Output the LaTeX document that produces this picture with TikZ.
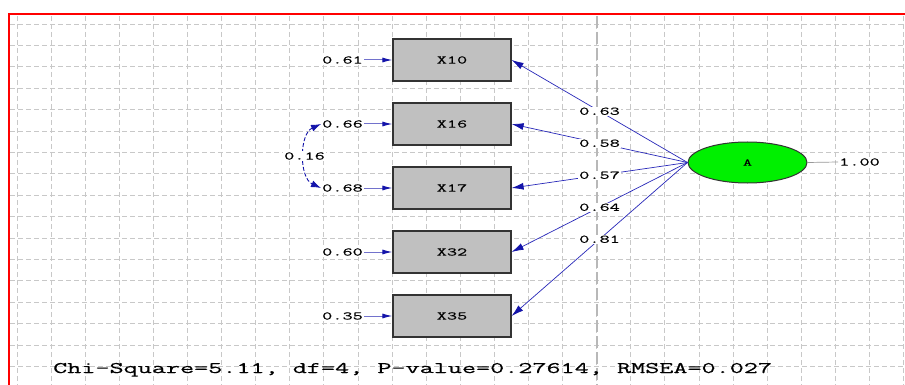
\documentclass[tikz,border=0pt]{standalone}
\usepackage{fontspec}
\newfontfamily\lmono[FakeStretch=1.7,FakeBold=0.6]{Latin Modern Mono}
\usetikzlibrary{arrows.meta,shapes.geometric}
\definecolor{pathblue}{RGB}{40,40,185}
\definecolor{errblue}{RGB}{20,20,170}
\definecolor{boxgray}{RGB}{192,192,192}
\definecolor{gridgray}{RGB}{200,200,200}
\definecolor{latgreen}{RGB}{0,240,0}
\tikzset{
  gridline/.style={gridgray, line width=0.9pt, dash pattern=on 5pt off 3pt},
  centreline/.style={black!28, line width=1.2pt, dash pattern=on 12pt off 4pt},
  obs/.style={draw=black!80, fill=boxgray, line width=1.2pt, minimum width=118pt, minimum height=42pt, inner sep=0pt, font=\lmono\fontsize{11.6}{12}\selectfont},
  latent/.style={ellipse, draw=black!80, fill=latgreen, line width=1pt, minimum width=119pt, minimum height=41pt, inner sep=0pt, font=\lmono\fontsize{10}{10}\selectfont},
  lbl/.style={inner sep=1pt, fill=white, text=black, font=\lmono\fontsize{11.6}{12}\selectfont},
  loading/.style={pathblue, line width=0.7pt, -{Latex[length=12pt,width=7pt,color=errblue]}},
  errarrow/.style={errblue!60, line width=1pt, -{Latex[length=10pt,width=5pt,color=errblue]}},
  covarrow/.style={errblue, line width=0.9pt, dash pattern=on 4pt off 2pt, {Latex[length=10pt,width=7pt]}-{Latex[length=10pt,width=7pt]}},
}
\begin{document}
\begin{tikzpicture}[x=1pt,y=-1pt]
\useasboundingbox (0,0) rectangle (905,385);
\fill[white] (0,0) rectangle (905,385);
% grid
\foreach \i in {0,...,26} \draw[gridline] ({17+34.1*\i},16) -- ({17+34.1*\i},385);
\foreach \j in {0,...,16} \draw[gridline] (10,{24+21.4*\j}) -- (905,{24+21.4*\j});
\draw[centreline] (597,16) -- (597,385);
% border
\draw[red, line width=2pt] (8.5,385) -- (8.5,14) -- (905,14);
% observed variables
\node[obs] (X10) at (452,60) {X10};
\node[obs] (X16) at (452,124) {X16};
\node[obs] (X17) at (452,188) {X17};
\node[obs] (X32) at (452,252) {X32};
\node[obs] (X35) at (452,316) {X35};
% latent
\node[latent] (A) at (747.5,162.5) {A};
\node[lbl, anchor=west] (vA) at (838,162) {1.00};
\draw[black!40, line width=0.7pt] (A.east) -- (vA.west);
% error variances
\node[lbl, anchor=east] (e10) at (364,60) {0.61};
\node[lbl, anchor=east] (e16) at (364,124) {0.66};
\node[lbl, anchor=east] (e17) at (364,188) {0.68};
\node[lbl, anchor=east] (e32) at (364,252) {0.60};
\node[lbl, anchor=east] (e35) at (364,316) {0.35};
\foreach \n in {10,16,17,32,35} \draw[errarrow] (e\n.east) -- (X\n.west);
% covariance
\draw[covarrow] (e16.west) .. controls (299,134) and (299,178) .. node[lbl] {0.16} (e17.west);
% loadings
\draw[loading] (A.west) -- node[lbl] {0.63} (X10.east);
\draw[loading] (A.west) -- node[lbl] {0.58} (X16.east);
\draw[loading] (A.west) -- node[lbl] {0.57} (X17.east);
\draw[loading] (A.west) -- node[lbl] {0.64} (X32.east);
\draw[loading] (A.west) -- node[lbl] {0.81} (X35.east);
% fit statistics
\node[anchor=base west, inner sep=0pt, font=\lmono\fontsize{16.1}{16}\selectfont] (fit) at (53,373) {Chi-Square=5.11, df=4, P-value=0.27614, RMSEA=0.027};
\end{tikzpicture}
\end{document}
